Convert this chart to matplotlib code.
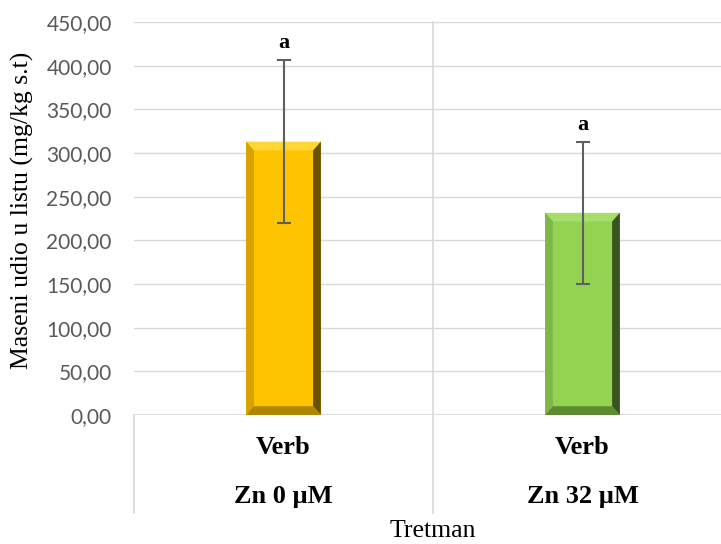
import numpy as np
import matplotlib

matplotlib.use("Agg")
import matplotlib.pyplot as plt
from matplotlib.patches import Polygon

# data
groups = ["Verb", "Verb"]
treatments = ["Zn 0 µM", "Zn 32 µM"]
means = [313.0, 231.5]
sd = [93.5, 81.0]
letters = ["a", "a"]

base_cols = ["#FFC400", "#94D352"]
top_cols = ["#FFD633", "#A6DE6B"]
left_cols = ["#D8A300", "#7DB845"]
right_cols = ["#6B5200", "#3A5420"]
bottom_cols = ["#B08600", "#5E8A33"]

fig = plt.figure(figsize=(7.21, 5.44), dpi=100)
ax = fig.add_axes([134 / 721, 1 - 415 / 544, 598 / 721, 393 / 544])

x = np.arange(len(means))
w = 0.25
ax.bar(x, means, width=w, color=base_cols, zorder=3)

# bevel edges, like the Excel effect
bx = 0.026
by = 10
for i, (xi, h) in enumerate(zip(x, means)):
    l, r = xi - w / 2, xi + w / 2
    faces = [
        ([(l, h), (r, h), (r - bx, h - by), (l + bx, h - by)], top_cols[i]),
        ([(l, 0), (l, h), (l + bx, h - by), (l + bx, by)], left_cols[i]),
        ([(r, 0), (r, h), (r - bx, h - by), (r - bx, by)], right_cols[i]),
        ([(l, 0), (r, 0), (r - bx, by), (l + bx, by)], bottom_cols[i]),
    ]
    for pts, c in faces:
        ax.add_patch(Polygon(pts, closed=True, facecolor=c, edgecolor="none", zorder=3))

ax.errorbar(x, means, yerr=sd, fmt="none", ecolor="#5F5F5F", elinewidth=1.5,
            capsize=5, capthick=1.5, zorder=4)

for xi, m, s, t in zip(x, means, sd, letters):
    ax.text(xi, m + s + 8, t, ha="center", va="bottom", fontsize=16,
            fontweight="bold", family="Liberation Serif", zorder=5)

ax.set_xlim(-0.5, 1.5)
ax.set_ylim(0, 450)
ax.set_yticks(np.arange(0, 451, 50))
ax.set_yticklabels([f"{v:.2f}".replace(".", ",") for v in np.arange(0, 451, 50)],
                   family="Lato", fontsize=15, color="#595959")
ax.tick_params(axis="y", length=0, pad=16)
ax.set_xticks([])
ax.yaxis.grid(True, color="#D9D9D9", linewidth=1, zorder=0)
for s in ax.spines.values():
    s.set_visible(False)
ax.axhline(0, color="#D9D9D9", linewidth=1.2, zorder=2)

# category dividers of the two-level axis
low = -(513 - 415) / 393
ax.axvline(0.5, ymin=low, ymax=1, color="#D9D9D9", linewidth=1.2, clip_on=False, zorder=1)
ax.axvline(-0.5, ymin=low, ymax=0, color="#D9D9D9", linewidth=1.2, clip_on=False, zorder=1)

for xi, g, t in zip(x, groups, treatments):
    ax.text(xi, -37, g, ha="center", va="center", fontsize=19, fontweight="bold",
            family="Liberation Serif")
    ax.text(xi, -93, t, ha="center", va="center", fontsize=19, fontweight="bold",
            family="Liberation Serif")

fig.text(433 / 721, 1 - 531 / 544, "Tretman", ha="center", va="center",
         fontsize=18.5, family="Liberation Serif")
fig.text(22 / 721, 1 - 210 / 544, "Maseni udio u listu (mg/kg s.t)", ha="center",
         va="center", rotation=90, fontsize=18.5, family="Liberation Serif")

plt.savefig("out.png", dpi=100)
